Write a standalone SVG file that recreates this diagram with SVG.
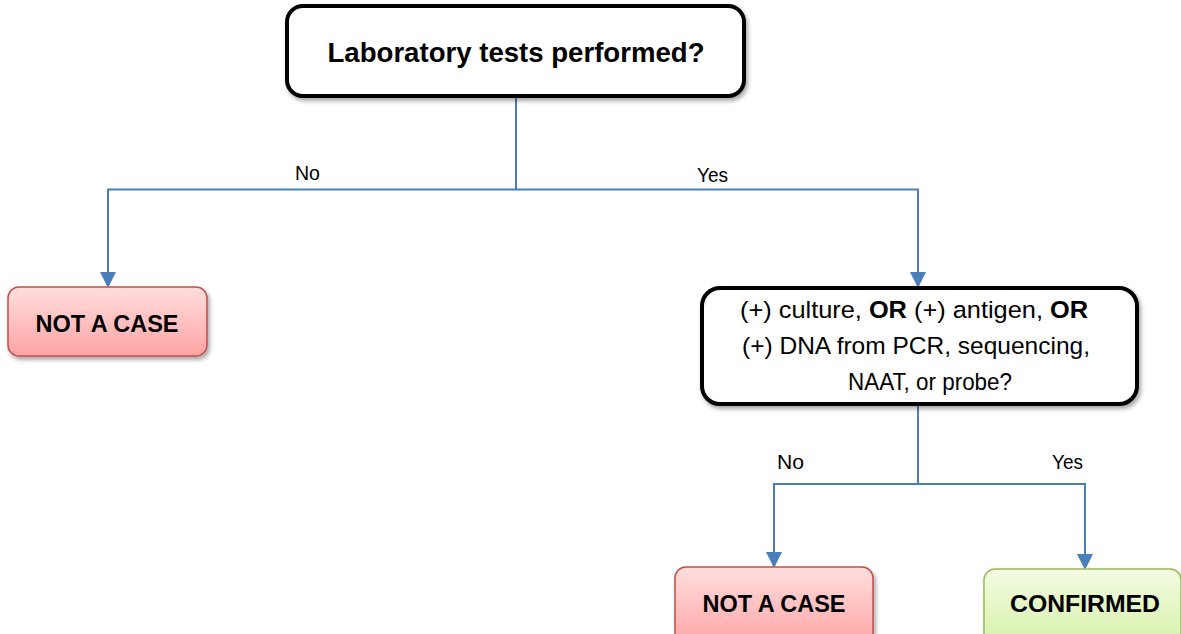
<svg xmlns="http://www.w3.org/2000/svg" width="1181" height="634" viewBox="0 0 1181 634">
<style>
.dec{fill:#fff;stroke:#000;stroke-width:4}
.red{fill:url(#gRed);stroke:#C0504D;stroke-width:1.5}
.grn{fill:url(#gGrn);stroke:#9BBB59;stroke-width:1.5}
.con{fill:none;stroke:#4A7EBB;stroke-width:2}
text{font-family:"Liberation Sans",Arial,sans-serif;fill:#000}
.b{font-weight:bold}
.lbl{font-size:20px}
.q{font-size:24.5px}
</style>
<defs>
<linearGradient id="gRed" x1="0" y1="0" x2="0" y2="1">
<stop offset="0" stop-color="#FFDEDE"/>
<stop offset="1" stop-color="#FFA3A3"/>
</linearGradient>
<linearGradient id="gGrn" x1="0" y1="0" x2="0" y2="1">
<stop offset="0" stop-color="#F3FCE3"/>
<stop offset="1" stop-color="#D5F0A6"/>
</linearGradient>
<filter id="sh" x="-10%" y="-20%" width="130%" height="160%">
<feDropShadow dx="2" dy="3" stdDeviation="2" flood-color="#000" flood-opacity="0.35"/>
</filter>
<marker id="arr" markerWidth="8" markerHeight="8" refX="7" refY="4" orient="auto" markerUnits="strokeWidth" viewBox="0 0 8 8">
<path d="M0,0 L8,4 L0,8 Z" fill="#4A7EBB"/>
</marker>
</defs>

<g id="connectors">
<path class="con" d="M516,97 V189.5 H108 V286" marker-end="url(#arr)"/>
<path class="con" d="M516,189.5 H918 V286" marker-end="url(#arr)"/>
<path class="con" d="M918,405 V484 H774 V566" marker-end="url(#arr)"/>
<path class="con" d="M918,484 H1085 V568" marker-end="url(#arr)"/>
<text class="lbl" x="295" y="180" textLength="25" lengthAdjust="spacingAndGlyphs">No</text>
<text class="lbl" x="697" y="182" textLength="31" lengthAdjust="spacingAndGlyphs">Yes</text>
<text class="lbl" x="777" y="469" textLength="27" lengthAdjust="spacingAndGlyphs">No</text>
<text class="lbl" x="1052" y="469" textLength="31" lengthAdjust="spacingAndGlyphs">Yes</text>
</g>

<g id="lab-tests">
<rect class="dec" x="287" y="6" width="457" height="90" rx="16" filter="url(#sh)"/>
<text class="b" x="516" y="62" font-size="27" text-anchor="middle" textLength="377" lengthAdjust="spacingAndGlyphs">Laboratory tests performed?</text>
</g>

<g id="not-a-case-1">
<rect class="red" x="8" y="287" width="199" height="69" rx="11" filter="url(#sh)"/>
<text class="b" x="107" y="332" font-size="23" text-anchor="middle" textLength="143" lengthAdjust="spacingAndGlyphs">NOT A CASE</text>
</g>

<g id="lab-results">
<rect class="dec" x="702" y="288" width="435" height="116" rx="18" filter="url(#sh)"/>
<text class="q" x="740" y="318" textLength="348" lengthAdjust="spacingAndGlyphs">(+) culture, <tspan class="b">OR</tspan> (+) antigen, <tspan class="b">OR</tspan></text>
<text class="q" x="742" y="354" textLength="348" lengthAdjust="spacingAndGlyphs">(+) DNA from PCR, sequencing,</text>
<text class="q" x="848" y="390" textLength="164" lengthAdjust="spacingAndGlyphs">NAAT, or probe?</text>
</g>

<g id="not-a-case-2">
<rect class="red" x="675" y="567" width="198" height="80" rx="11" filter="url(#sh)"/>
<text class="b" x="774" y="612" font-size="23" text-anchor="middle" textLength="143" lengthAdjust="spacingAndGlyphs">NOT A CASE</text>
</g>

<g id="confirmed">
<rect class="grn" x="984" y="569" width="197" height="80" rx="11" filter="url(#sh)"/>
<text class="b" x="1085" y="612" font-size="23" text-anchor="middle" textLength="150" lengthAdjust="spacingAndGlyphs">CONFIRMED</text>
</g>
</svg>
